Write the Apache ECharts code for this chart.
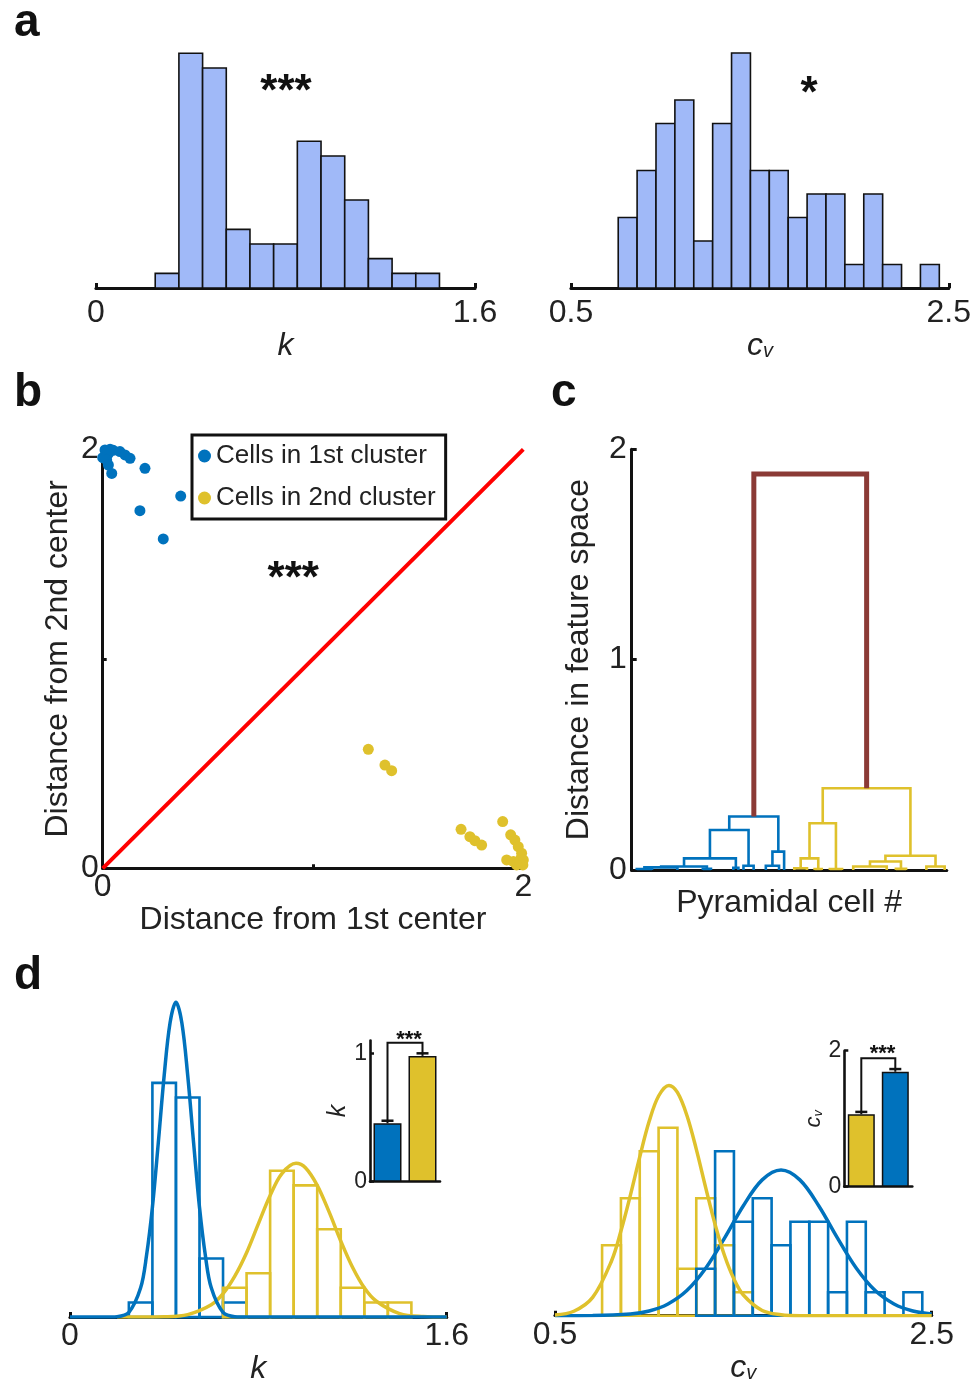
<!DOCTYPE html>
<html><head><meta charset="utf-8">
<script src="https://cdn.jsdelivr.net/npm/echarts@6/dist/echarts.min.js"></script>
<style>html,body{margin:0;padding:0;background:#fff}#c{width:974px;height:1386px}</style>
</head><body><div id="c"></div>
<script>
// ---------- DATA ----------
// panel a: histograms of all cells
const kEdges = [0.25,0.35,0.45,0.55,0.65,0.75,0.85,0.95,1.05,1.15,1.25,1.35,1.45];
const kCounts = [1,16,15,4,3,3,10,9,6,2,1,1];
const cvEdges = [0.75,0.85,0.95,1.05,1.15,1.25,1.35,1.45,1.55,1.65,1.75,1.85,1.95,2.05,2.15,2.25,2.35,2.45];
const cvCounts = [3,5,7,8,2,7,10,5,5,3,4,4,1,4,1,0,1];
const kTicks = [0, 1.6];
const cvTicks = [0.5, 2.5];
// panel b: scatter of distances
const cluster1Pts = [[0.011,1.997],[0.035,2.0],[0.05,1.995],[0.027,1.98],[0.015,1.99],[0.0,1.96],[0.019,1.949],[0.027,1.925],[0.043,1.885],[0.082,1.989],[0.106,1.973],[0.13,1.957],[0.201,1.909],[0.371,1.777],[0.177,1.707],[0.288,1.572]];
const cluster2Pts = [[1.263,0.568],[1.342,0.493],[1.374,0.466],[1.704,0.186],[1.746,0.151],[1.770,0.132],[1.802,0.111],[1.902,0.223],[1.94,0.16],[1.96,0.135],[1.976,0.103],[1.99,0.05],[1.992,0.072],[2.0,0.04],[1.984,0.024],[1.953,0.032],[1.921,0.04],[1.998,0.016],[1.968,0.016]];
const diagLine = [[0,0],[2,2]];
const distTicks = [0, 2];
const distMinorTicks = [0, 1, 2];
// panel c: dendrogram links [xLeft, xRight, yLeftChild, yRightChild, yMerge, group]
const dendroLinks = [
  [0.5, 2.0, 0, 0, 0.004, 0],
  [1.25, 4.5, 0.004, 0, 0.012, 0],
  [7.0, 7.8, 0, 0, 0.005, 0],
  [2.9, 7.4, 0.012, 0.005, 0.016, 0],
  [10.0, 10.5, 0, 0, 0.01, 0],
  [5.15, 10.25, 0.016, 0.01, 0.055, 0],
  [11.0, 12.0, 0, 0, 0.02, 0],
  [7.7, 11.5, 0.055, 0.02, 0.19, 0],
  [13.2, 14.5, 0, 0, 0.02, 0],
  [13.85, 15.0, 0.02, 0, 0.087, 0],
  [9.6, 14.43, 0.19, 0.087, 0.254, 0],
  [16.0, 17.25, 0, 0, 0.008, 1],
  [18.0, 18.7, 0, 0, 0.004, 1],
  [16.63, 18.36, 0.008, 0.004, 0.055, 1],
  [19.5, 20.7, 0, 0, 0.004, 1],
  [17.5, 20.1, 0.055, 0.004, 0.222, 1],
  [21.8, 25.1, 0, 0, 0.016, 1],
  [26.0, 27.0, 0, 0, 0.005, 1],
  [23.45, 26.5, 0.016, 0.005, 0.04, 1],
  [29.0, 30.8, 0, 0, 0.016, 1],
  [24.97, 29.9, 0.04, 0.016, 0.067, 1],
  [18.8, 27.43, 0.222, 0.067, 0.388, 1],
  [12.02, 23.12, 0.254, 0.388, 1.883, 2]
];
const dendroTicks = [0, 1, 2];
// panel d: histograms per cluster
const kCountsC1 = [1,16,15,4,1,0,0,0,0,0,0,0];
const kCountsC2 = [0,0,0,0,2,3,10,9,6,2,1,1];
const cvCountsC1 = [0,0,0,0,0,2,7,4,5,3,4,4,1,4,1,0,1];
const cvCountsC2 = [3,5,7,8,2,5,3,1,0,0,0,0,0,0,0,0,0];
// fitted curves [x, count]
const kCurveC1 = [[0,0],[0.15,0],[0.2,0.03],[0.25,0.32],[0.3,2.0],[0.325,4.2],[0.35,7.5],[0.375,11.9],[0.4,16.5],[0.425,20.1],[0.45,21.5],[0.475,20.1],[0.5,16.5],[0.525,11.9],[0.55,7.5],[0.575,4.2],[0.6,2.0],[0.65,0.32],[0.7,0.03],[0.75,0],[1.6,0]];
const kCurveC2 = [[0.2,0],[0.3,0.002],[0.4,0.02],[0.5,0.17],[0.6,0.84],[0.65,1.6],[0.7,2.8],[0.75,4.4],[0.8,6.37],[0.85,8.3],[0.9,9.8],[0.96,10.5],[1.0,10.2],[1.05,9.0],[1.1,7.2],[1.15,5.2],[1.2,3.4],[1.25,2.0],[1.3,1.1],[1.4,0.24],[1.5,0.035],[1.6,0]];
const cvCurveC2 = [[0.5,0.03],[0.6,0.19],[0.7,0.78],[0.8,2.33],[0.85,3.6],[0.9,5.12],[0.95,6.76],[1.0,8.27],[1.05,9.35],[1.105,9.8],[1.15,9.5],[1.2,8.53],[1.25,7.09],[1.3,5.45],[1.35,3.88],[1.4,2.56],[1.45,1.56],[1.5,0.88],[1.6,0.22],[1.7,0.04],[1.8,0],[2.5,0]];
const cvCurveC1 = [[0.5,0],[0.7,0.006],[0.9,0.07],[1.0,0.2],[1.1,0.5],[1.2,1.07],[1.3,2.02],[1.4,3.3],[1.5,4.68],[1.6,5.78],[1.7,6.2],[1.8,5.78],[1.9,4.68],[2.0,3.3],[2.1,2.02],[2.2,1.07],[2.3,0.5],[2.4,0.2],[2.5,0.07]];
// insets: mean +/- error
const insetCats = ['c1','c2'];
const kMeans = [0.455, 0.98];
const kErr = [0.02, 0.02];
const kBracket = 1.082;
const kInsetTicks = [0, 1];
const cvMeans = [1.065, 1.69];
const cvErr = [0.035, 0.04];
const cvBracket = 1.89;
const cvInsetTicks = [0, 2];

// ---------- STYLE ----------
const FONT = 'Liberation Sans, Arial, Helvetica, sans-serif';
const TXT = '#222';
const BLUE = '#0072BD', YELLOW = '#DFC12C', BROWN = '#8B3A36', HISTFILL = '#A0B9F8', RED = '#FF0000';
const groupColor = [BLUE, YELLOW, BROWN];

function bins(edges, counts){
  return counts.map((c,i)=>[edges[i], edges[i+1], c]).filter(d=>d[2]>0);
}
function histRender(fill, stroke, lw){
  return function(params, api){
    const a = api.coord([api.value(0), api.value(2)]);
    const b = api.coord([api.value(1), 0]);
    return {type:'rect', shape:{x:a[0], y:a[1], width:b[0]-a[0], height:b[1]-a[1]},
      style:{fill:fill, stroke:stroke, lineWidth:lw}};
  };
}
function histSeries(ax, data, fill, stroke, lw, z){
  return {type:'custom', xAxisIndex:ax, yAxisIndex:ax, data:data, encode:{x:[0,1], y:2},
    renderItem:histRender(fill, stroke, lw), z:z||2, silent:true};
}
function curveSeries(ax, data, color){
  return {type:'line', xAxisIndex:ax, yAxisIndex:ax, data:data, smooth:0.35, showSymbol:false,
    symbol:'none', lineStyle:{color:color, width:3.5}, z:5, silent:true};
}
function blackLine(w){ return {show:true, lineStyle:{color:'#111', width:w}}; }
function lbl(size, vals, margin){
  return {show:true, color:TXT, fontSize:size, fontFamily:FONT, margin:margin, customValues:vals};
}
function ticks(vals, len, w){
  return {show:true, inside:true, length:len, lineStyle:{color:'#111', width:w}, customValues:vals};
}
function hiddenY(idx, max){
  return {type:'value', gridIndex:idx, min:0, max:max, show:false, splitLine:{show:false}};
}
const italic32 = {fontSize:32, fontStyle:'italic', fontFamily:FONT, color:TXT};
const cvRich = {rich:{
  c:{fontSize:32, fontStyle:'italic', fontFamily:FONT, color:TXT, verticalAlign:'top', lineHeight:32},
  v:{fontSize:20, fontStyle:'italic', fontFamily:FONT, color:TXT, verticalAlign:'bottom', lineHeight:12}
}};
const title32 = {fontSize:32, fontFamily:FONT, color:TXT};

function errRender(params, api){
  const i = api.value(0), m = api.value(1), e = api.value(2);
  const base = api.coord([i, m]);
  const top = api.coord([i, m+e]);
  return {type:'group', children:[
    {type:'line', shape:{x1:base[0], y1:base[1], x2:top[0], y2:top[1]}, style:{stroke:'#111', lineWidth:2}},
    {type:'line', shape:{x1:top[0]-6, y1:top[1], x2:top[0]+6, y2:top[1]}, style:{stroke:'#111', lineWidth:2.5}}
  ]};
}
function bracketRender(params, api){
  const y0 = api.value(0), y1 = api.value(1), yt = api.value(2);
  const p1 = api.coord([0, y0]), p2 = api.coord([0, yt]), p3 = api.coord([1, yt]), p4 = api.coord([1, y1]);
  return {type:'polyline', shape:{points:[p1,p2,p3,p4]}, style:{stroke:'#111', lineWidth:2, fill:'none'}};
}
function dendroRender(params, api){
  const xl = api.value(0), xr = api.value(1), yl = api.value(2), yr = api.value(3), yt = api.value(4), g = api.value(5);
  const pts = [api.coord([xl, yl]), api.coord([xl, yt]), api.coord([xr, yt]), api.coord([xr, yr])];
  return {type:'polyline', shape:{points:pts}, style:{stroke:groupColor[g], lineWidth: g===2?5:2.6, fill:'none'}};
}
const starStyle = (size, txt) => ({text:txt, font:'bold '+size+'px '+FONT, fill:'#111', align:'center', verticalAlign:'middle', textAlign:'center', textVerticalAlign:'middle'});

const option = {
  animation:false,
  backgroundColor:'#fff',
  textStyle:{fontFamily:FONT},
  grid:[
    {left:96, top:53.3, width:379, height:234.7},     // a left
    {left:571, top:53, width:379, height:235},        // a right
    {left:102.7, top:449.3, width:420.6, height:419}, // b
    {left:631.7, top:449.3, width:315, height:420.6}, // c
    {left:70, top:995, width:376.7, height:322.7},    // d left
    {left:555, top:1080.7, width:376.7, height:235},  // d right
    {left:370, top:1040.5, width:70, height:141.2},   // inset left
    {left:844.3, top:1050.7, width:68, height:136}    // inset right
  ],
  xAxis:[
    {type:'value', gridIndex:0, min:0, max:1.6, axisLine:blackLine(3.2), axisTick:ticks(kTicks,5,3),
      axisLabel:lbl(32,kTicks,9), splitLine:{show:false}, name:'k', nameLocation:'middle', nameGap:41, nameTextStyle:italic32},
    {type:'value', gridIndex:1, min:0.5, max:2.5, axisLine:blackLine(3.2), axisTick:ticks(cvTicks,5,3),
      axisLabel:lbl(32,cvTicks,9), splitLine:{show:false}, name:'{c|c}{v|v}', nameLocation:'middle', nameGap:41, nameTextStyle:cvRich},
    {type:'value', gridIndex:2, min:0, max:2, axisLine:blackLine(3), axisTick:ticks(distMinorTicks,4,3),
      axisLabel:lbl(32,distTicks,3), splitLine:{show:false}, name:'Distance from 1st center', nameLocation:'middle', nameGap:22, nameTextStyle:title32},
    {type:'value', gridIndex:3, min:0, max:31, axisLine:blackLine(3.2), axisTick:{show:false}, axisLabel:{show:false},
      splitLine:{show:false}, name:'Pyramidal cell #', nameLocation:'middle', nameGap:17, nameTextStyle:title32},
    {type:'value', gridIndex:4, min:0, max:1.6, axisLine:blackLine(3.2), axisTick:ticks(kTicks,5,3),
      axisLabel:lbl(32,kTicks,3), splitLine:{show:false}, name:'k', nameLocation:'middle', nameGap:32, nameTextStyle:italic32},
    {type:'value', gridIndex:5, min:0.5, max:2.5, axisLine:blackLine(3.2), axisTick:ticks(cvTicks,5,3),
      axisLabel:lbl(32,cvTicks,3), splitLine:{show:false}, name:'{c|c}{v|v}', nameLocation:'middle', nameGap:35, nameTextStyle:cvRich},
    {type:'category', gridIndex:6, data:insetCats, axisLine:blackLine(2.6), axisTick:{show:false}, axisLabel:{show:false}},
    {type:'category', gridIndex:7, data:insetCats, axisLine:blackLine(2.6), axisTick:{show:false}, axisLabel:{show:false}}
  ],
  yAxis:[
    hiddenY(0,16),
    hiddenY(1,10),
    {type:'value', gridIndex:2, min:0, max:2, axisLine:blackLine(3), axisTick:ticks(distMinorTicks,4,3),
      axisLabel:lbl(32,distTicks,4), splitLine:{show:false}, name:'Distance from 2nd center', nameLocation:'middle',
      nameRotate:90, nameGap:29, nameTextStyle:title32},
    {type:'value', gridIndex:3, min:0, max:2, axisLine:blackLine(3), axisTick:ticks(dendroTicks,5,3),
      axisLabel:lbl(32,dendroTicks,5), splitLine:{show:false}, name:'Distance in feature space', nameLocation:'middle',
      nameRotate:90, nameGap:37, nameTextStyle:title32},
    hiddenY(4,22),
    hiddenY(5,10),
    {type:'value', gridIndex:6, min:0, max:1.1, axisLine:blackLine(2.6), axisTick:ticks(kInsetTicks,4,2.5),
      axisLabel:lbl(23,kInsetTicks,3), splitLine:{show:false}, name:'k', nameLocation:'middle', nameRotate:90, nameGap:14,
      nameTextStyle:{fontSize:25, fontStyle:'italic', fontFamily:FONT, color:TXT}},
    {type:'value', gridIndex:7, min:0, max:2, axisLine:blackLine(2.6), axisTick:ticks(cvInsetTicks,4,2.5),
      axisLabel:lbl(23,cvInsetTicks,3), splitLine:{show:false}, name:'{c|c}{v|v}', nameLocation:'middle', nameRotate:90, nameGap:14,
      nameTextStyle:{rich:{
        c:{fontSize:22, fontStyle:'italic', fontFamily:FONT, color:TXT, verticalAlign:'top', lineHeight:22},
        v:{fontSize:13, fontStyle:'italic', fontFamily:FONT, color:TXT, verticalAlign:'bottom', lineHeight:8}}}}
  ],
  legend:{
    data:['Cells in 1st cluster','Cells in 2nd cluster'],
    orient:'vertical', left:192, top:435, icon:'circle', itemWidth:13, itemHeight:13, itemGap:16,
    padding:[8,10,8,6], borderColor:'#111', borderWidth:3, backgroundColor:'#fff',
    textStyle:{fontSize:26, fontFamily:FONT, color:TXT}, selectedMode:false,
    itemStyle:{opacity:1}
  },
  series:[
    histSeries(0, bins(kEdges,kCounts), HISTFILL, '#111', 1.6),
    histSeries(1, bins(cvEdges,cvCounts), HISTFILL, '#111', 1.6),
    {type:'line', xAxisIndex:2, yAxisIndex:2, data:diagLine, showSymbol:false, symbol:'none',
      lineStyle:{color:RED, width:4}, z:3, silent:true},
    {type:'scatter', name:'Cells in 1st cluster', xAxisIndex:2, yAxisIndex:2, data:cluster1Pts, symbolSize:11,
      itemStyle:{color:BLUE, opacity:1}, z:4},
    {type:'scatter', name:'Cells in 2nd cluster', xAxisIndex:2, yAxisIndex:2, data:cluster2Pts, symbolSize:11,
      itemStyle:{color:YELLOW, opacity:1}, z:4},
    {type:'custom', xAxisIndex:3, yAxisIndex:3, data:dendroLinks, encode:{x:[0,1], y:[2,3,4]}, renderItem:dendroRender, z:4, silent:true},
    histSeries(4, bins(kEdges,kCountsC1), 'none', BLUE, 2.6, 3),
    histSeries(4, bins(kEdges,kCountsC2), 'none', YELLOW, 2.6, 3),
    curveSeries(4, kCurveC2, YELLOW),
    curveSeries(4, kCurveC1, BLUE),
    histSeries(5, bins(cvEdges,cvCountsC2), 'none', YELLOW, 2.6, 3),
    histSeries(5, bins(cvEdges,cvCountsC1), 'none', BLUE, 2.6, 3),
    curveSeries(5, cvCurveC1, BLUE),
    curveSeries(5, cvCurveC2, YELLOW),
    {type:'bar', xAxisIndex:6, yAxisIndex:6, barWidth:28, silent:true,
      data:kMeans.map((v,i)=>({value:v, itemStyle:{color:[BLUE,YELLOW][i], borderColor:'#111', borderWidth:1.5}}))},
    {type:'custom', xAxisIndex:6, yAxisIndex:6, data:kMeans.map((m,i)=>[i,m,kErr[i]]), renderItem:errRender, z:5, silent:true},
    {type:'custom', xAxisIndex:6, yAxisIndex:6, data:[[kMeans[0]+kErr[0], kMeans[1]+kErr[1], kBracket]], renderItem:bracketRender, z:5, silent:true},
    {type:'bar', xAxisIndex:7, yAxisIndex:7, barWidth:27, silent:true,
      data:cvMeans.map((v,i)=>({value:v, itemStyle:{color:[YELLOW,BLUE][i], borderColor:'#111', borderWidth:1.5}}))},
    {type:'custom', xAxisIndex:7, yAxisIndex:7, data:cvMeans.map((m,i)=>[i,m,cvErr[i]]), renderItem:errRender, z:5, silent:true},
    {type:'custom', xAxisIndex:7, yAxisIndex:7, data:[[cvMeans[0]+cvErr[0], cvMeans[1]+cvErr[1], cvBracket]], renderItem:bracketRender, z:5, silent:true}
  ],
  graphic:[
    {type:'text', left:14, top:0, style:{text:'a', font:'bold 46px '+FONT, fill:'#111'}},
    {type:'text', left:14, top:370, style:{text:'b', font:'bold 46px '+FONT, fill:'#111'}},
    {type:'text', left:551, top:370, style:{text:'c', font:'bold 46px '+FONT, fill:'#111'}},
    {type:'text', left:14, top:953, style:{text:'d', font:'bold 46px '+FONT, fill:'#111'}},
    {type:'text', x:286, y:93, style:starStyle(44,'***')},
    {type:'text', x:809, y:95, style:starStyle(44,'*')},
    {type:'text', x:293.3, y:580, style:starStyle(44,'***')},
    {type:'text', x:409, y:1040, style:starStyle(22,'***')},
    {type:'text', x:882.5, y:1053.5, style:starStyle(22,'***')}
  ]
};
const chart = echarts.init(document.getElementById('c'), null, {renderer:'canvas', width:974, height:1386});
chart.setOption(option);
</script></body></html>
